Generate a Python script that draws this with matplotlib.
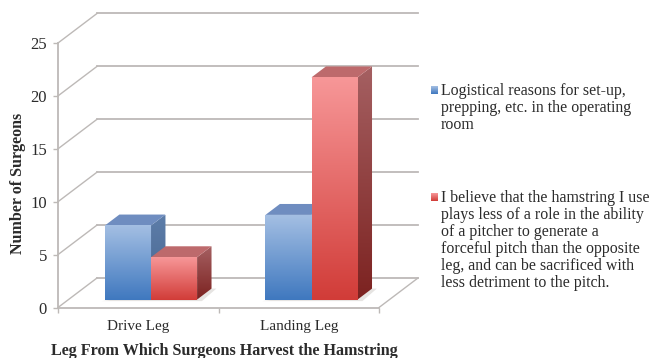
import matplotlib
matplotlib.use('Agg')
import matplotlib.pyplot as plt
import numpy as np
from matplotlib.colors import LinearSegmentedColormap
from matplotlib.patches import Polygon

plt.rcParams['font.family'] = ['Liberation Serif', 'DejaVu Serif']

#chart data
categories = ['Drive Leg', 'Landing Leg']
logistical = [7, 8]
hamstring = [4, 21]
y_ticks = [0, 5, 10, 15, 20, 25]

logistical_label = ('Logistical reasons for set-up,\n'
                    'prepping, etc. in the operating\n'
                    'room')
hamstring_label = ('I believe that the hamstring I use\n'
                   'plays less of a role in the ability\n'
                   'of a pitcher to generate a\n'
                   'forceful pitch than the opposite\n'
                   'leg, and can be sacrificed with\n'
                   'less detriment to the pitch.')

W, H = 655, 358
GRID = '#bdb9b7'
TEXT = '#2b2b2b'

#oblique offset of the back wall, in data units
DEPTH_X = 0.243
DEPTH_Y = 2.79
#bars stand between these two fractions of the floor depth
BAR_FRONT = 0.27
BAR_BACK = 0.64
BAR_W = 0.287

fig = plt.figure(figsize=(W/100, H/100), dpi=100)
ax = fig.add_axes([58/W, 1 - 307.5/H, 321/W, 264.5/H])
ax.set_xlim(0, 2)
ax.set_ylim(0, 25)
ax.set_autoscale_on(False)


def project(x, y, depth):
    return x + depth*DEPTH_X, y + depth*DEPTH_Y


def gradient_fill(xs, ys, top, bottom, zorder):
    #vertical gradient clipped to the polygon
    cmap = LinearSegmentedColormap.from_list('face', [bottom, top])
    grad = np.linspace(0, 1, 256).reshape(-1, 1)
    im = ax.imshow(grad, cmap=cmap, origin='lower', aspect='auto', zorder=zorder,
                   extent=[min(xs), max(xs), min(ys), max(ys)], clip_on=True)
    poly = Polygon(np.column_stack([xs, ys]), closed=True, transform=ax.transData)
    im.set_clip_path(poly)


def draw_bar(xc, value, front_cols, side_cols, top_col, zorder):
    x0, x1 = xc, xc + BAR_W
    fx0, fy0 = project(x0, 0, BAR_FRONT)
    fx1, fy1 = project(x1, value, BAR_FRONT)
    bx1, by1 = project(x1, value, BAR_BACK)
    bx0, _ = project(x0, value, BAR_BACK)
    _, by0 = project(x1, 0, BAR_BACK)
    #side face
    gradient_fill([fx1, bx1, bx1, fx1], [fy0, by0, by1, fy1],
                  side_cols[0], side_cols[1], zorder)
    #top face
    ax.add_patch(Polygon([(fx0, fy1), (fx1, fy1), (bx1, by1), (bx0, by1)],
                         closed=True, fc=top_col, ec='none', zorder=zorder,
                         clip_on=False))
    #front face
    gradient_fill([fx0, fx1, fx1, fx0], [fy0, fy0, fy1, fy1],
                  front_cols[0], front_cols[1], zorder + 0.1)


#back wall and floor
for v in y_ticks:
    bx0, by = project(0, v, 1)
    bx1, _ = project(2, v, 1)
    ax.plot([bx0, bx1], [by, by], color=GRID, lw=1.3, clip_on=False, zorder=1)
    ax.plot([0, bx0], [v, by], color=GRID, lw=1.0, clip_on=False, zorder=1)
ex, ey = project(2, 0, 1)
ax.plot([2, ex], [0, ey], color=GRID, lw=1.0, clip_on=False, zorder=1)

BLUE_FRONT = ('#a4bfe3', '#3f78bf')
BLUE_SIDE = ('#5d7da9', '#46658f')
BLUE_TOP = '#6f8dc0'
RED_FRONT = ('#f79798', '#d13c38')
RED_SIDE = ('#a56062', '#7c2220')
RED_TOP = '#bd6a6c'

for i in range(len(categories)):
    left = i + 0.5 - BAR_W + 0.014
    #floor shadow under the pair of bars
    sx0, sy0 = project(left - 0.02, -0.15, BAR_FRONT)
    sx1, _ = project(left + 2*BAR_W + 0.03, -0.15, BAR_FRONT)
    sx2, sy2 = project(left + 2*BAR_W + 0.03, 0, BAR_BACK)
    ax.add_patch(Polygon([(sx0, sy0), (sx1, sy0), (sx2, sy2), (sx2 - 0.1, sy2)],
                         closed=True, fc='#e6e4e2', ec='none', zorder=2,
                         clip_on=False))
    draw_bar(left, logistical[i], BLUE_FRONT, BLUE_SIDE, BLUE_TOP, 3 + i)
    draw_bar(left + BAR_W, hamstring[i], RED_FRONT, RED_SIDE, RED_TOP, 3.5 + i)

ax.set_xlim(0, 2)
ax.set_ylim(0, 25)

#axes
for name in ['top', 'right']:
    ax.spines[name].set_visible(False)
for name in ['left', 'bottom']:
    ax.spines[name].set_color(GRID)
    ax.spines[name].set_linewidth(1.3)
ax.patch.set_alpha(0)
ax.set_yticks(y_ticks)
ax.set_xticks([0, 1, 2])
ax.set_xticklabels([])
ax.set_xticks([0.5, 1.5], minor=True)
ax.set_xticklabels(categories, minor=True)
ax.tick_params(axis='x', which='major', length=3.5, width=1, color=GRID)
ax.tick_params(axis='x', which='minor', length=0, pad=9, labelsize=11, labelcolor=TEXT)
ax.tick_params(axis='y', length=3.5, width=1, color=GRID, pad=4.5, labelsize=12,
               labelcolor=TEXT)

ax.set_ylabel('Number of Surgeons', fontsize=11.5, fontweight='bold', color=TEXT)
ax.yaxis.set_label_coords((26 - 58)/321, (307.5 - 183)/264.5)
ax.set_xlabel('Leg From Which Surgeons Harvest the Hamstring', fontsize=11.6,
              fontweight='bold', color=TEXT)
ax.xaxis.set_label_coords((224 - 58)/321, (307.5 - 351)/264.5)
ax.xaxis.label.set_verticalalignment('center')

#legend drawn by hand so that keys sit on the first text line
for label, top_y, cols in [(logistical_label, 83, BLUE_FRONT),
                           (hamstring_label, 190, RED_FRONT)]:
    fig.text(441/W, 1 - top_y/H, label, fontsize=11.4, color=TEXT, va='top', ha='left',
             linespacing=1.09)
    key = fig.add_axes([431/W, 1 - (top_y + 11)/H, 7/W, 8/H])
    key.imshow(np.linspace(0, 1, 32).reshape(-1, 1), origin='lower', aspect='auto',
               cmap=LinearSegmentedColormap.from_list('key', [cols[1], cols[0]]))
    key.axis('off')

fig.savefig('out.png', dpi=100)
